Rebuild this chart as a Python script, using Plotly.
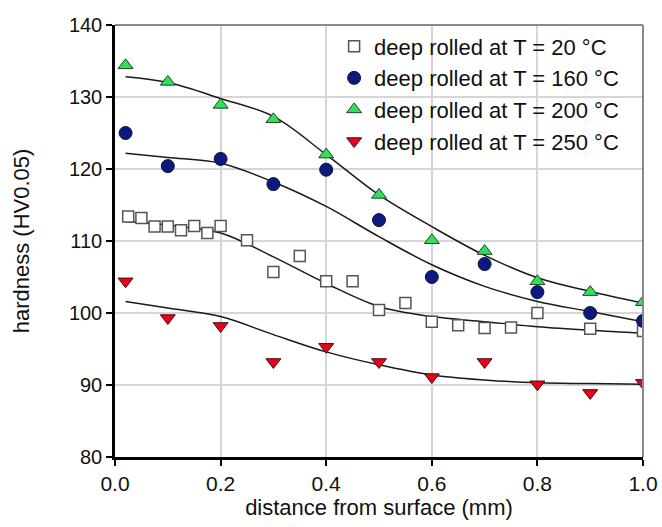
import plotly.graph_objects as go

# ---- data ----
x_20 = [0.025, 0.05, 0.075, 0.1, 0.125, 0.15, 0.175, 0.2, 0.25, 0.3, 0.35, 0.4,
        0.45, 0.5, 0.55, 0.6, 0.65, 0.7, 0.75, 0.8, 0.9, 1.0]
y_20 = [113.4, 113.2, 112.0, 112.0, 111.5, 112.1, 111.1, 112.1, 110.1, 105.7, 107.9, 104.4,
        104.4, 100.4, 101.4, 98.8, 98.3, 97.9, 98.0, 100.0, 97.8, 97.5]

x_T = [0.02, 0.1, 0.2, 0.3, 0.4, 0.5, 0.6, 0.7, 0.8, 0.9, 1.0]
y_160 = [125.0, 120.4, 121.4, 117.9, 119.9, 112.9, 105.0, 106.8, 102.9, 100.0, 98.9]
y_200 = [134.4, 132.1, 128.9, 126.9, 122.0, 116.4, 110.1, 108.6, 104.4, 102.9, 101.5]
y_250 = [104.4, 99.3, 98.2, 93.2, 95.3, 93.2, 91.1, 93.2, 90.1, 88.9, 90.3]

# fitted curves
x_fit = [0.02, 0.1, 0.2, 0.3, 0.4, 0.5, 0.6, 0.7, 0.8, 0.9, 1.0]
fit_20 = [112.7, 112.2, 111.1, 107.8, 104.1, 100.9, 99.5, 98.8, 98.1, 97.6, 97.2]
fit_160 = [122.2, 121.6, 120.8, 118.2, 114.8, 110.6, 106.7, 103.7, 101.6, 100.2, 98.8]
fit_200 = [132.8, 132.0, 129.8, 127.3, 122.0, 116.4, 112.0, 108.0, 104.9, 103.0, 101.4]
fit_250 = [101.6, 100.7, 99.5, 97.0, 94.6, 92.8, 91.4, 90.7, 90.3, 90.2, 90.1]

labels = ["deep rolled at T = 20 °C", "deep rolled at T = 160 °C",
          "deep rolled at T = 200 °C", "deep rolled at T = 250 °C"]

FONT = "Liberation Sans, Arial, sans-serif"
fig = go.Figure()

for yf in [fit_20, fit_160, fit_200, fit_250]:
    fig.add_trace(go.Scatter(x=x_fit, y=yf, mode="lines", line=dict(color="#1a1a1a", width=1.5, shape="spline"),
                             showlegend=False, hoverinfo="skip"))

fig.add_trace(go.Scatter(x=x_20, y=y_20, mode="markers", name=labels[0],
                         marker=dict(symbol="square", size=11, color="white",
                                     line=dict(color="#555555", width=1.5))))
fig.add_trace(go.Scatter(x=x_T, y=y_160, mode="markers", name=labels[1],
                         marker=dict(symbol="circle", size=13, color="#0c1a80",
                                     line=dict(color="#111133", width=1))))
fig.add_trace(go.Scatter(x=x_T, y=y_200, mode="markers", name=labels[2],
                         marker=dict(symbol="triangle-up", size=13, color="#2ee05a",
                                     line=dict(color="#224422", width=1))))
fig.add_trace(go.Scatter(x=x_T, y=y_250, mode="markers", name=labels[3],
                         marker=dict(symbol="triangle-down", size=13, color="#e8001c",
                                     line=dict(color="#441111", width=1))))

fig.update_layout(
    width=662, height=527,
    margin=dict(l=115, r=19, t=25, b=70),
    paper_bgcolor="white", plot_bgcolor="white",
    font=dict(family=FONT, color="#111111"),
    showlegend=True,
    legend=dict(x=0.415, y=0.999, xanchor="left", yanchor="top",
                bgcolor="rgba(0,0,0,0)", font=dict(size=22, family=FONT, color="#111111"),
                itemsizing="trace", tracegroupgap=0),
    xaxis=dict(range=[0, 1], dtick=0.2, tick0=0, tickformat=".1f", automargin=False,
               showline=True, linecolor="black", linewidth=2.5,
               showgrid=True, gridcolor="#d6d6d6", gridwidth=1.5, zeroline=False,
               ticks="outside", ticklen=6, tickwidth=2, tickcolor="black",
               tickfont=dict(size=21, family=FONT),
               title=dict(text="distance from surface (mm)", font=dict(size=22, family=FONT), standoff=5)),
    yaxis=dict(range=[80, 140], dtick=10, tick0=80, automargin=False,
               showline=True, linecolor="black", linewidth=2.5,
               showgrid=True, gridcolor="#d6d6d6", gridwidth=1.5, zeroline=False,
               ticks="outside", ticklen=6, tickwidth=2, tickcolor="black",
               tickfont=dict(size=20, family=FONT),
               title=dict(text="hardness (HV0.05)", font=dict(size=22, family=FONT), standoff=34)),
    shapes=[
        dict(type="line", xref="paper", yref="paper", x0=0, x1=1, y0=1, y1=1,
             line=dict(color="#8a8a8a", width=2)),
        dict(type="line", xref="paper", yref="paper", x0=1, x1=1, y0=0, y1=1,
             line=dict(color="#8a8a8a", width=2)),
    ],
)

fig.write_html("out.html")
